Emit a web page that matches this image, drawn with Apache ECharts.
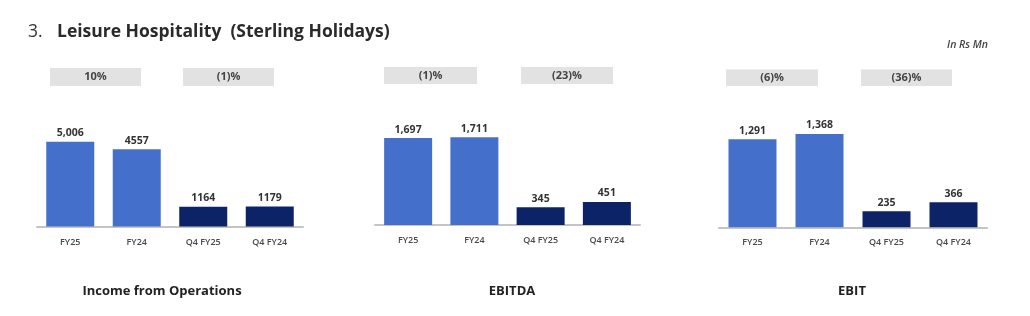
<!DOCTYPE html>
<html><head><meta charset="utf-8">
<script src="https://cdn.jsdelivr.net/npm/echarts@6/dist/echarts.min.js"></script>
<style>html,body{margin:0;padding:0;background:#fff}#c{width:1030px;height:316px}</style>
</head><body><div id="c"></div>
<script>
const categories = ['FY25', 'FY24', 'Q4 FY25', 'Q4 FY24'];
const incomeValues = [5006, 4557, 1164, 1179];
const incomeLabels = ['5,006', '4557', '1164', '1179'];
const ebitdaValues = [1697, 1711, 345, 451];
const ebitdaLabels = ['1,697', '1,711', '345', '451'];
const ebitValues = [1291, 1368, 235, 366];
const ebitLabels = ['1,291', '1,368', '235', '366'];
const panelTitles = ['Income from Operations', 'EBITDA', 'EBIT'];
const growthLabels = [['10%', '(1)%'], ['(1)%', '(23)%'], ['(6)%', '(36)%']];
const barColors = ['#4470cc', '#4470cc', '#0c2367', '#0c2367'];

const FONT = '"Open Sans", Lato, sans-serif';
const panels = [
  {vals: incomeValues, labs: incomeLabels, grid: {left: 37, top: 100, width: 266, height: 126.5}, max: 7470,
   boxes: [[50, 68, 91, 18], [183, 68, 91, 18]], titleX: 162},
  {vals: ebitdaValues, labs: ebitdaLabels, grid: {left: 375, top: 100, width: 265, height: 125}, max: 2440,
   boxes: [[384, 67, 93, 17], [521, 67, 92, 17]], titleX: 512},
  {vals: ebitValues, labs: ebitLabels, grid: {left: 719, top: 100, width: 268, height: 127.3}, max: 1866,
   boxes: [[726, 69.5, 92, 16.5], [861, 69.5, 91, 16.5]], titleX: 852}
];

const grids = [], xAxes = [], yAxes = [], series = [], graphics = [];
panels.forEach((p, i) => {
  grids.push(p.grid);
  xAxes.push({
    type: 'category', gridIndex: i, data: categories,
    axisLine: {lineStyle: {color: '#c4c4c4', width: 2}},
    axisTick: {show: false},
    axisLabel: {fontSize: 9, color: '#4a4a4a', fontWeight: 600, fontFamily: FONT, margin: 11}
  });
  yAxes.push({type: 'value', gridIndex: i, min: 0, max: p.max, show: false, splitLine: {show: false}});
  series.push({
    type: 'bar', xAxisIndex: i, yAxisIndex: i, barWidth: 48,
    data: p.vals.map((v, k) => ({value: v, itemStyle: {color: barColors[k]}})),
    label: {show: true, position: 'top', distance: 3, fontSize: 10.5, fontWeight: 'bold', color: '#333', fontFamily: FONT,
            formatter: (d) => p.labs[d.dataIndex]}
  });
  p.boxes.forEach((b, k) => {
    graphics.push({type: 'rect', shape: {x: b[0], y: b[1], width: b[2], height: b[3]}, style: {fill: '#e2e2e2'}});
    graphics.push({type: 'text', x: b[0] + b[2] / 2, y: b[1] + b[3] / 2,
      style: {text: growthLabels[i][k], fill: '#444', font: 'bold 11px ' + FONT, align: 'center', verticalAlign: 'middle'}});
  });
  graphics.push({type: 'text', x: p.titleX, y: 291,
    style: {text: panelTitles[i], fill: '#222', font: 'bold 13px ' + FONT, align: 'center', verticalAlign: 'middle'}});
});

graphics.push({type: 'text', x: 28, y: 32, style: {text: '3.', fill: '#333', font: '17.5px ' + FONT, verticalAlign: 'middle'}});
graphics.push({type: 'text', x: 57, y: 32, style: {text: 'Leisure Hospitality  (Sterling Holidays)', fill: '#2a2a2a',
  font: 'bold 17.5px ' + FONT, verticalAlign: 'middle'}});
graphics.push({type: 'text', x: 988, y: 45, style: {text: 'In Rs Mn', fill: '#444', font: 'italic 600 10.5px ' + FONT, align: 'right', verticalAlign: 'middle'}});

const chart = echarts.init(document.getElementById('c'), null, {renderer: 'canvas'});
chart.setOption({
  animation: false,
  backgroundColor: '#fff',
  grid: grids, xAxis: xAxes, yAxis: yAxes, series: series, graphic: graphics
});
</script></body></html>
